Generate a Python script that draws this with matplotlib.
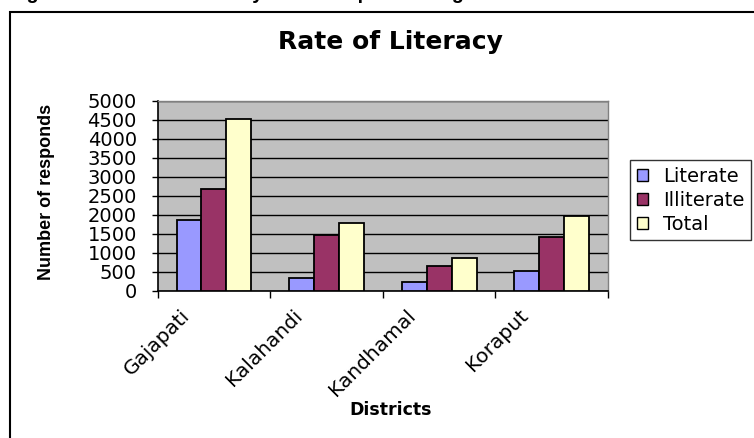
import matplotlib
matplotlib.use("Agg")
import matplotlib.pyplot as plt
from matplotlib.patches import Rectangle, Patch
from matplotlib.transforms import ScaledTranslation
import numpy as np

categories = ["Gajapati", "Kalahandi", "Kandhamal", "Koraput"]
literate = [1860, 333, 228, 526]
illiterate = [2667, 1456, 649, 1403]
total = [4526, 1780, 868, 1974]
series_names = ["Literate", "Illiterate", "Total"]
series_colors = ["#9999FF", "#993366", "#FFFFCC"]
y_ticks = [0, 500, 1000, 1500, 2000, 2500, 3000, 3500, 4000, 4500, 5000]

W, H = 754, 438
fig = plt.figure(figsize=(W / 100, H / 100), dpi=100)
fig.patch.set_facecolor("white")

# outer frame
fig.patches.append(Rectangle((9.5 / W, -0.1), 1.0, (1 - 11.5 / H) + 0.1,
                             transform=fig.transFigure, fill=False,
                             lw=1.5, edgecolor="black"))

# caption above the chart, cut off by the top edge as in the reference
fig.text(9 / W, 1 + 1.5 / H, "Figure 3.1: Rate of Literacy of the respondents given below",
         family="Liberation Sans", weight="bold", fontsize=14.2,
         ha="left", va="baseline")

ax = fig.add_axes([157.7 / W, 1 - 290.7 / H, (608 - 157.7) / W, (290.7 - 100.7) / H])
ax.set_facecolor("#C0C0C0")

x = np.arange(len(categories)) + 0.5
bw = 0.222
for k, (vals, col) in enumerate(zip([literate, illiterate, total], series_colors)):
    ax.bar(x + (k - 1) * bw, vals, width=bw, color=col, edgecolor="black",
           linewidth=1.3, zorder=3)

ax.set_xlim(0, len(categories))
ax.set_ylim(0, 5000)
ax.set_yticks(y_ticks)
ax.set_yticklabels([str(v) for v in y_ticks])
ax.set_xticks(np.arange(len(categories) + 1))
ax.set_xticklabels([])
ax.tick_params(axis="y", direction="out", length=4, width=1, pad=11, labelsize=14, colors="black")
ax.tick_params(axis="x", direction="out", length=5, width=1)
ax.yaxis.grid(True, color="black", linewidth=1)
ax.set_axisbelow(True)
for s in ["top", "right"]:
    ax.spines[s].set_color("#808080")
    ax.spines[s].set_linewidth(1)
for s in ["left", "bottom"]:
    ax.spines[s].set_color("black")
    ax.spines[s].set_linewidth(1.2)

off = ScaledTranslation(-27 / 100, -22 / 100, fig.dpi_scale_trans)
for xi, name in zip(x, categories):
    ax.text(xi, 0, name, transform=ax.get_xaxis_transform() + off,
            rotation=45, rotation_mode="anchor", ha="right", va="center",
            fontsize=14.5)

fig.text(390 / W, 1 - 42 / H, "Rate of Literacy", ha="center", va="center",
         fontsize=18, weight="bold")
fig.text(47 / W, 1 - 192 / H, "Number of responds", rotation=90, ha="center",
         va="center", family="Liberation Sans", weight="bold", fontsize=13)
fig.text(391 / W, 1 - 410 / H, "Districts", ha="center", va="center",
         fontsize=12.5, weight="bold")

handles = [Patch(facecolor=c, edgecolor="black", linewidth=1) for c in series_colors]
leg = fig.legend(handles, series_names, loc="upper left",
                 bbox_to_anchor=(630 / W, 1 - 160 / H), fontsize=14,
                 frameon=True, fancybox=False, borderpad=0.35, labelspacing=0.25,
                 handlelength=0.6, handleheight=0.6, handletextpad=0.75,
                 borderaxespad=0)
leg.get_frame().set_edgecolor("black")
leg.get_frame().set_linewidth(1)

fig.savefig("out.png", dpi=100)
